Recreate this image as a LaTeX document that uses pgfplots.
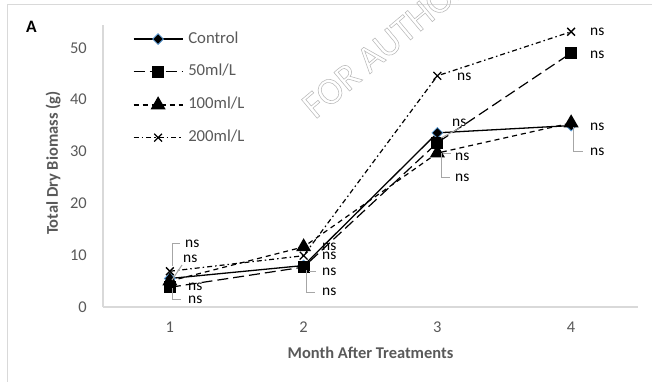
\documentclass[border=0pt]{standalone}
\usepackage{fontspec}
\setmainfont{Carlito}
\usepackage{pgfplots}
\pgfplotsset{compat=1.18}

\definecolor{axisgray}{RGB}{217,217,217}
\definecolor{labelgray}{RGB}{89,89,89}
\definecolor{leadergray}{RGB}{166,166,166}
\definecolor{ctrlblue}{RGB}{91,155,213}

\newcommand{\nsfont}{\fontsize{15.5}{18}\selectfont}

\begin{document}
\begin{tikzpicture}
\useasboundingbox (0bp,0bp) rectangle (652bp,-382bp);

% outer frame of the chart area
\draw[axisgray, line width=1bp] (7bp,-395bp) -- (7bp,-4bp) -- (665bp,-4bp);

% watermark (outlined letters)
\node[rotate=40, anchor=base west, inner sep=0pt, font=\fontsize{38}{40}\selectfont]
  at (315bp,-120bp)
  {\special{pdf:literal direct 1 Tr 0.72 0.72 0.72 RG 0.55 w}FOR AUTHOR USE ONLY\special{pdf:literal direct 0 Tr}};

% panel letter
\node[anchor=base west, inner sep=0pt, font=\bfseries\fontsize{17.5}{20}\selectfont] at (26bp,-32.5bp) {A};

\begin{axis}[
  at={(103bp,-307bp)}, anchor=south west,
  scale only axis, width=535bp, height=282bp,
  xmin=0.5, xmax=4.5, ymin=0, ymax=54.4,
  axis x line*=bottom, axis y line*=left,
  axis line style={axisgray, line width=1.1bp, -},
  xtick={1,2,3,4}, ytick={0,10,...,50},
  major tick length=0pt,
  /pgf/number format/assume math mode=true,
  tick label style={font=\fontsize{16.5}{20}\selectfont, text=labelgray},
  yticklabel style={anchor=east, inner sep=0pt, xshift=-16bp},
  xticklabel style={anchor=north, inner sep=0pt, yshift=-14.5bp},
  xlabel={Month After Treatments},
  ylabel={Total Dry Biomass (g)},
  label style={font=\bfseries\fontsize{16.5}{20}\selectfont, text=labelgray},
  xlabel style={at={(axis description cs:0.5,-0.163)}, anchor=center},
  ylabel style={at={(axis description cs:-0.093,0.51)}, anchor=center},
  clip=false,
  legend cell align=left,
  legend image code/.code={%
    \draw[mark repeat=2, mark phase=2]
      plot coordinates {(0bp,0bp) (24.5bp,0bp) (49bp,0bp)};},
  legend style={draw=none, fill=none, at={(0.056,0.975)}, anchor=north west,
    inner sep=0pt, outer sep=0pt, row sep=18.7bp,
    font=\fontsize{16.8}{20}\selectfont, text=labelgray,
    nodes={inner sep=0pt, text height=11bp, text depth=3bp},
    /tikz/every odd column/.append style={column sep=5bp}},
]

\addplot[black, line width=1.3bp, mark=square*, mark size=3.8bp,
  mark options={solid, rotate=45, fill=black, draw=ctrlblue, line width=0.8bp}]
  coordinates {(1,5.5) (2,8.0) (3,33.6) (4,35.0)};
\addlegendentry{Control}

\addplot[black, line width=1.2bp, dash pattern=on 11bp off 5bp,
  mark=square*, mark size=5.5bp, mark options={solid, fill=black}]
  coordinates {(1,3.8) (2,7.7) (3,31.7) (4,49.0)};
\addlegendentry{50ml/L}

\addplot[black, line width=1.2bp, dash pattern=on 5bp off 4bp,
  mark=triangle*, mark size=7.5bp, mark options={solid, fill=black}]
  coordinates {(1,5.0) (2,11.6) (3,29.7) (4,35.5)};
\addlegendentry{100ml/L}

\addplot[black, line width=1.2bp, dash pattern=on 5bp off 3bp on 1.5bp off 3bp,
  mark=x, mark size=5.5bp, mark options={solid, line width=1.3bp}]
  coordinates {(1,6.9) (2,9.9) (3,44.6) (4,53.1)};
\addlegendentry{200ml/L}

\end{axis}

% significance labels with their leader lines
\begin{scope}[x=1bp, y=-1bp]
  \begin{scope}[leadergray, line width=1bp]
    % month 1
    \draw (180,243) -- (172,243) -- (172,266);
    \draw (182,265) -- (172,280);
    \draw (172,288) -- (172,299) -- (181,299);
    % month 2
    \draw (306,270) -- (306,292) -- (315,292);
    \draw (309,271) -- (316,271);
    % month 3
    \draw (441,138) -- (460,128);
    \draw (443,153) -- (451,153);
    \draw (441,153) -- (441,177) -- (450,177);
    % month 4
    \draw (573,127) -- (573,151) -- (583,151);
  \end{scope}
  \begin{scope}[every node/.style={anchor=west, inner sep=0pt, font=\nsfont}]
    \node at (185,244) {ns};
    \node at (183,259) {ns};
    \node at (188,287) {ns};
    \node at (188,300) {ns};
    \node at (322,247) {ns};
    \node at (322,256) {ns};
    \node at (322,272) {ns};
    \node at (322,292) {ns};
    \node at (457,77) {ns};
    \node at (452,123) {ns};
    \node at (455,157) {ns};
    \node at (455,178) {ns};
    \node at (590,32) {ns};
    \node at (590,55) {ns};
    \node at (590,127) {ns};
    \node at (590,152) {ns};
  \end{scope}
\end{scope}
\end{tikzpicture}
\end{document}
